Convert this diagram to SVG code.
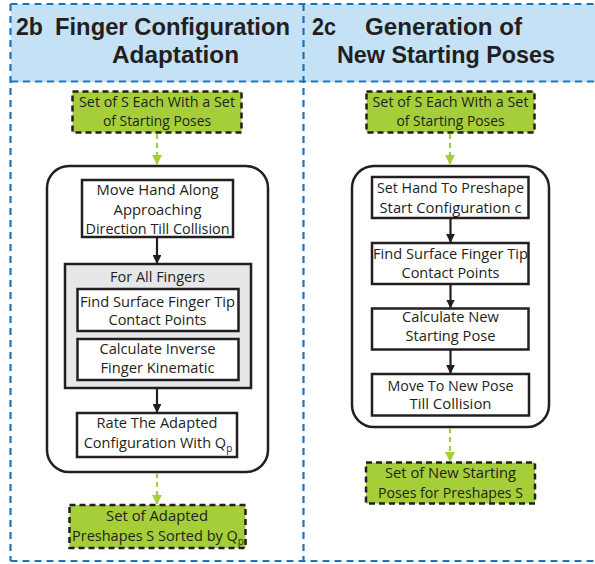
<svg xmlns="http://www.w3.org/2000/svg" width="595" height="564" viewBox="0 0 595 564">
<defs>
<style>
.frame{fill:none;stroke:#1b75bc;stroke-width:2.2;stroke-dasharray:7,5}
.hdr{font-family:"Liberation Sans","Open Sans",sans-serif;font-weight:bold;font-size:24px;fill:#231f20}
.t{font-family:"Open Sans","Liberation Sans",sans-serif;font-size:14.5px;fill:#231f20;text-anchor:middle}
.box{fill:#fff;stroke:#231f20;stroke-width:2.5}
.gray{fill:#e6e7e8;stroke:#231f20;stroke-width:2.5}
.round{fill:#fff;stroke:#231f20;stroke-width:2.5}
.green{fill:#a6ce39;stroke:#231f20;stroke-width:2.5;stroke-dasharray:6,4}
.bl{stroke:#231f20;stroke-width:2.2;fill:none}
.gl{stroke:#a6ce39;stroke-width:2.2;fill:none;stroke-dasharray:5,4}
</style>
<marker id="ab" viewBox="0 0 10 10" refX="9" refY="5" markerWidth="4" markerHeight="4" markerUnits="strokeWidth" orient="auto"><path d="M0,0 L10,5 L0,10 z" fill="#231f20"/></marker>
<marker id="ag" viewBox="0 0 10 10" refX="9" refY="5" markerWidth="4.5" markerHeight="5" markerUnits="strokeWidth" orient="auto"><path d="M0,0 L10,5 L0,10 z" fill="#a6ce39"/></marker>
</defs>

<g id="frame">
<rect x="11" y="4" width="584" height="78" fill="#c5e1f5"/>
<line class="frame" x1="10.5" y1="4" x2="595" y2="4"/>
<line class="frame" x1="10.5" y1="4" x2="10.5" y2="561"/>
<line class="frame" x1="10.5" y1="561" x2="595" y2="561"/>
<line class="frame" x1="11" y1="81.5" x2="595" y2="81.5"/>
<line class="frame" x1="303.5" y1="4" x2="303.5" y2="561"/>
</g>

<g id="header-2b">
<text class="hdr" x="16" y="35" textLength="27" lengthAdjust="spacingAndGlyphs">2b</text>
<text class="hdr" x="55" y="35" textLength="235" lengthAdjust="spacingAndGlyphs">Finger Configuration</text>
<text class="hdr" x="112" y="63" textLength="127" lengthAdjust="spacingAndGlyphs">Adaptation</text>
</g>
<g id="header-2c">
<text class="hdr" x="312" y="35" textLength="24" lengthAdjust="spacingAndGlyphs">2c</text>
<text class="hdr" x="365" y="35" textLength="157" lengthAdjust="spacingAndGlyphs">Generation of</text>
<text class="hdr" x="337" y="63" textLength="218" lengthAdjust="spacingAndGlyphs">New Starting Poses</text>
</g>

<g id="b-input">
<rect class="green" x="72.5" y="91.5" width="169" height="41"/>
<text class="t" x="157" y="107" textLength="156" lengthAdjust="spacingAndGlyphs">Set of S Each With a Set</text>
<text class="t" x="157" y="126" textLength="108" lengthAdjust="spacingAndGlyphs">of Starting Poses</text>
</g>
<g id="b-loop">
<rect class="round" x="47" y="166" width="221" height="306" rx="22"/>
</g>
<g id="b-move">
<rect class="box" x="82" y="180" width="151" height="57"/>
<text class="t" x="157.5" y="195" textLength="122" lengthAdjust="spacingAndGlyphs">Move Hand Along</text>
<text class="t" x="157.5" y="214.5" textLength="88" lengthAdjust="spacingAndGlyphs">Approaching</text>
<text class="t" x="157.5" y="234" textLength="144" lengthAdjust="spacingAndGlyphs">Direction Till Collision</text>
</g>
<g id="b-fingers">
<rect class="gray" x="65" y="264" width="186" height="124"/>
<text class="t" x="157.5" y="281.5" textLength="95" lengthAdjust="spacingAndGlyphs">For All Fingers</text>
</g>
<g id="b-find">
<rect class="box" x="77.5" y="289" width="161" height="42"/>
<text class="t" x="157.5" y="306.5" textLength="155" lengthAdjust="spacingAndGlyphs">Find Surface Finger Tip</text>
<text class="t" x="157.5" y="325" textLength="98" lengthAdjust="spacingAndGlyphs">Contact Points</text>
</g>
<g id="b-inverse">
<rect class="box" x="77.5" y="339" width="161" height="41"/>
<text class="t" x="157.5" y="353.5" textLength="116" lengthAdjust="spacingAndGlyphs">Calculate Inverse</text>
<text class="t" x="157.5" y="373" textLength="114" lengthAdjust="spacingAndGlyphs">Finger Kinematic</text>
</g>
<g id="b-rate">
<rect class="box" x="77" y="413" width="160" height="44"/>
<text class="t" x="157" y="428" textLength="121" lengthAdjust="spacingAndGlyphs">Rate The Adapted</text>
<text class="t" x="158" y="448">Configuration With Q<tspan font-size="10" dy="4">p</tspan></text>
</g>
<g id="b-output">
<rect class="green" x="69.5" y="505" width="176" height="43"/>
<text class="t" x="157" y="520.5" textLength="102" lengthAdjust="spacingAndGlyphs">Set of Adapted</text>
<text class="t" x="158" y="540.5">Preshapes S Sorted by Q<tspan font-size="10" dy="4">p</tspan></text>
</g>

<g id="c-input">
<rect class="green" x="366.5" y="91.5" width="168" height="41"/>
<text class="t" x="450.5" y="107" textLength="156" lengthAdjust="spacingAndGlyphs">Set of S Each With a Set</text>
<text class="t" x="450.5" y="126" textLength="108" lengthAdjust="spacingAndGlyphs">of Starting Poses</text>
</g>
<g id="c-loop">
<rect class="round" x="352" y="166" width="197" height="261" rx="22"/>
</g>
<g id="c-set">
<rect class="box" x="372" y="177" width="156.5" height="41"/>
<text class="t" x="450.5" y="193.3" textLength="147" lengthAdjust="spacingAndGlyphs">Set Hand To Preshape</text>
<text class="t" x="450.5" y="213" textLength="142" lengthAdjust="spacingAndGlyphs">Start Configuration c</text>
</g>
<g id="c-find">
<rect class="box" x="372" y="243" width="156.5" height="41"/>
<text class="t" x="450.5" y="259.3" textLength="155" lengthAdjust="spacingAndGlyphs">Find Surface Finger Tip</text>
<text class="t" x="450.5" y="278.3" textLength="98" lengthAdjust="spacingAndGlyphs">Contact Points</text>
</g>
<g id="c-calc">
<rect class="box" x="372" y="308.5" width="156.5" height="41"/>
<text class="t" x="450.5" y="321.7" textLength="97" lengthAdjust="spacingAndGlyphs">Calculate New</text>
<text class="t" x="450.5" y="340.5" textLength="90" lengthAdjust="spacingAndGlyphs">Starting Pose</text>
</g>
<g id="c-move">
<rect class="box" x="372" y="374" width="157" height="41.5"/>
<text class="t" x="450.5" y="390.7" textLength="126" lengthAdjust="spacingAndGlyphs">Move To New Pose</text>
<text class="t" x="450.5" y="409.3" textLength="82" lengthAdjust="spacingAndGlyphs">Till Collision</text>
</g>
<g id="c-output">
<rect class="green" x="366" y="462.5" width="169" height="41"/>
<text class="t" x="450.5" y="478.3" textLength="131" lengthAdjust="spacingAndGlyphs">Set of New Starting</text>
<text class="t" x="450.5" y="497.7" textLength="145" lengthAdjust="spacingAndGlyphs">Poses for Preshapes S</text>
</g>

<g id="connectors">
<line class="gl" x1="157" y1="134" x2="157" y2="164" marker-end="url(#ag)"/>
<line class="bl" x1="157" y1="238" x2="157" y2="263" marker-end="url(#ab)"/>
<line class="bl" x1="157" y1="389" x2="157" y2="412" marker-end="url(#ab)"/>
<line class="gl" x1="157" y1="473" x2="157" y2="504" marker-end="url(#ag)"/>
<line class="gl" x1="450" y1="134" x2="450" y2="164" marker-end="url(#ag)"/>
<line class="bl" x1="450.5" y1="219" x2="450.5" y2="242" marker-end="url(#ab)"/>
<line class="bl" x1="450.5" y1="285" x2="450.5" y2="307.5" marker-end="url(#ab)"/>
<line class="bl" x1="450.5" y1="350" x2="450.5" y2="373" marker-end="url(#ab)"/>
<line class="gl" x1="450" y1="428" x2="450" y2="461" marker-end="url(#ag)"/>
</g>
</svg>
